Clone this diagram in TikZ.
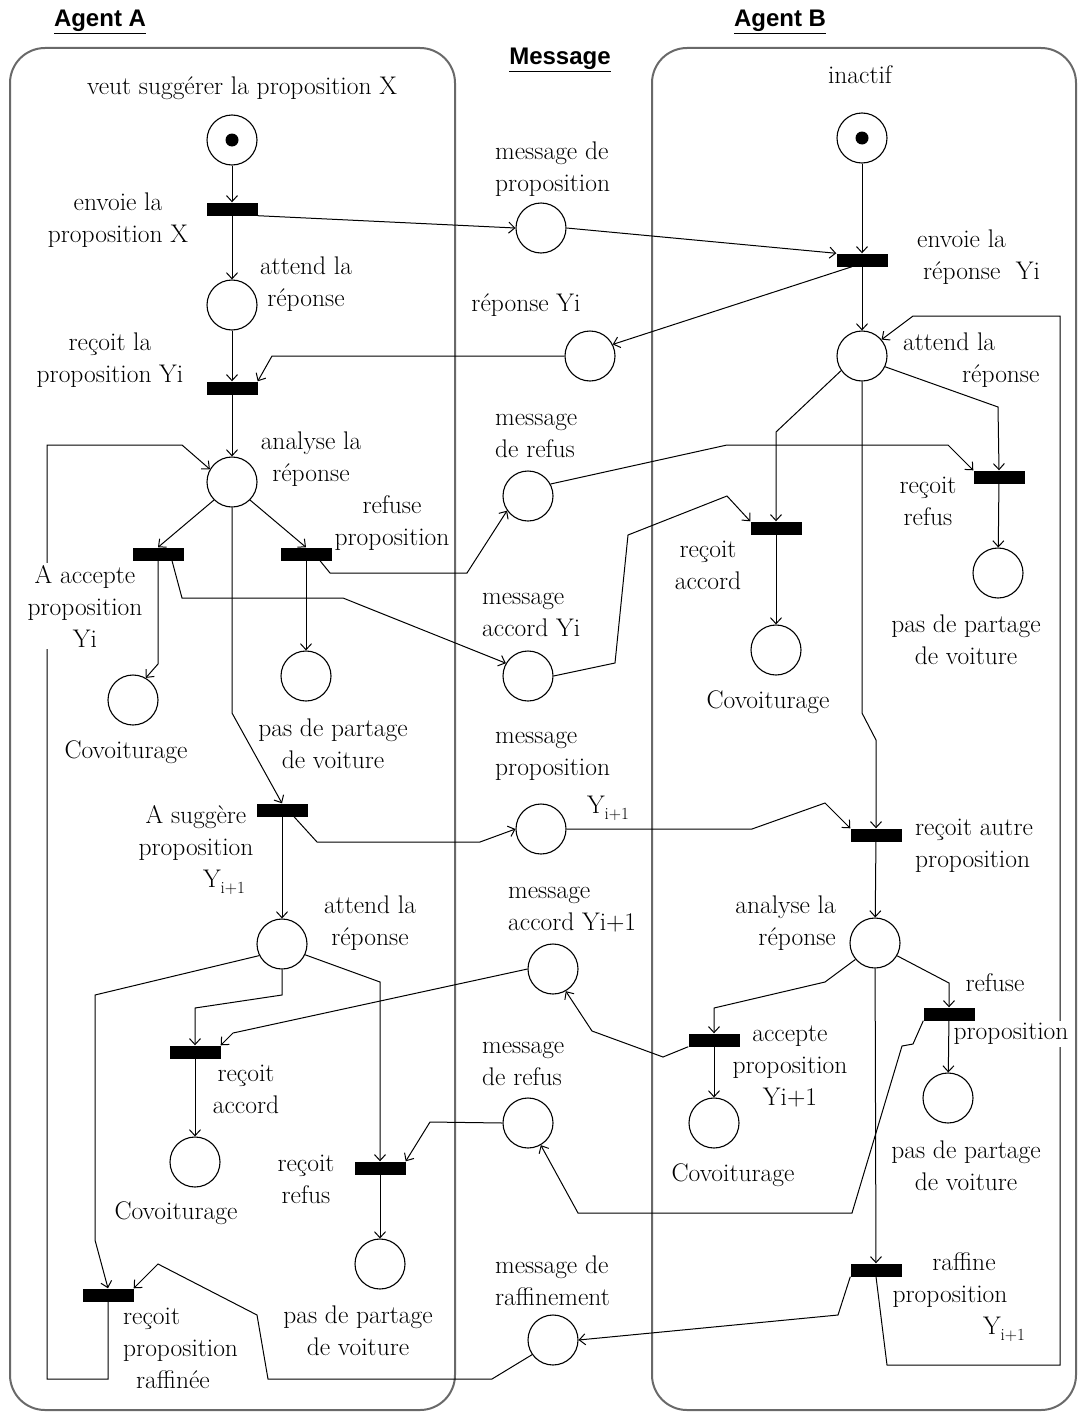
\documentclass[tikz,border=0pt]{standalone}
\usepackage{fontspec}
\newfontfamily\headfont{Liberation Sans}
\usetikzlibrary{arrows.meta}
\definecolor{boxgray}{RGB}{105,105,105}
\newcommand\Yip{Y\raisebox{-6pt}{\fontsize{17}{17}\selectfont i+1}}
\begin{document}
\begin{tikzpicture}[x=1pt,y=-1pt,
  font=\fontsize{25.5}{32}\selectfont,
  >={Straight Barb[length=6pt,width=11pt]},
  place/.style={circle,draw,line width=1.1pt,minimum size=50pt,inner sep=0pt},
  trans/.style={rectangle,fill=black,minimum width=51pt,minimum height=13pt,inner sep=0pt},
  arc/.style={->,line width=1pt},
  lbl/.style={align=center,inner sep=0pt},
  lbll/.style={align=left,inner sep=0pt,anchor=west},
  head/.style={font=\headfont\bfseries\fontsize{24}{28}\selectfont},
  agent/.style={draw=boxgray,line width=2pt,rounded corners=35pt},
  token/.style={circle,fill=black,minimum size=13pt,inner sep=0pt}
]
\useasboundingbox (0,0) rectangle (1077,1413);
\draw[agent] (10,48) rectangle (455,1410);
\draw[agent] (652,48) rectangle (1076,1410);

% headings
\node[head] (hA) at (100,22) {\underline{Agent A}};
\node[head] (hM) at (560,60) {\underline{Message}};
\node[head] (hB) at (780,22) {\underline{Agent B}};

% Agent A places / transitions
\node[place] (pA0) at (232,140) {};
\node[token] (kA0) at (pA0) {};
\node[trans] (tA1) at (232,209) {};
\node[place] (pA1) at (232,305) {};
\node[trans] (tA2) at (232,388) {};
\node[place] (pA2) at (232,482) {};
\node[trans] (tA3) at (158,554) {};
\node[trans] (tA4) at (306,554) {};
\node[place] (pA3) at (133,700) {};
\node[place] (pA4) at (306,676) {};
\node[trans] (tA5) at (282,810) {};
\node[place] (pA5) at (282,944) {};
\node[trans] (tA6) at (195,1052) {};
\node[place] (pA6) at (195,1162) {};
\node[trans] (tA7) at (380,1168) {};
\node[place] (pA7) at (380,1264) {};
\node[trans] (tA8) at (108,1295) {};

% Messages
\node[place] (mM1) at (541,228) {};
\node[place] (mM2) at (590,356) {};
\node[place] (mM3) at (528,496) {};
\node[place] (mM4) at (528,676) {};
\node[place] (mM5) at (541,829) {};
\node[place] (mM6) at (553,969) {};
\node[place] (mM7) at (528,1123) {};
\node[place] (mM8) at (553,1340) {};

% Agent B
\node[place] (pB0) at (862,138) {};
\node[token] (kB0) at (pB0) {};
\node[trans] (tB1) at (862,260) {};
\node[place] (pB1) at (862,356) {};
\node[trans] (tB2) at (776,528) {};
\node[trans] (tB3) at (999,477) {};
\node[place] (pB2) at (776,650) {};
\node[place] (pB3) at (998,573) {};
\node[trans] (tB4) at (876,835) {};
\node[place] (pB4) at (875,943) {};
\node[trans] (tB5) at (714,1040) {};
\node[trans] (tB6) at (949,1014) {};
\node[place] (pB5) at (714,1123) {};
\node[place] (pB6) at (948,1098) {};
\node[trans] (tB7) at (876,1270) {};

% connectors
\draw[arc] (pA0) -- (tA1);
\draw[arc] (tA1) -- (pA1);
\draw[arc] (tA1.south east) -- (mM1.west);
\draw[arc] (mM1.east) -- (tB1.north west);
\draw[arc] (pB0) -- (tB1);
\draw[arc] (tB1) -- (pB1);
\draw[arc] ([xshift=-10pt]tB1.south) -- (mM2.27);
\draw[arc] (mM2.west) -- (272,356) -- (tA2.north east);
\draw[arc] (pA1) -- (tA2);
\draw[arc] (tA2) -- (pA2);
\draw[arc] (pA2.225) -- (tA3.north);
\draw[arc] (pA2.-45) -- (tA4.north);
\draw[arc] (tA3.south) -- (158,664) -- (pA3.60);
\draw[arc] (tA4) -- (pA4);
\draw[arc] ([xshift=14pt]tA3.south) -- (182,598) -- (343,598) -- (mM4.150);
\draw[arc] ([xshift=14pt]tA4.south) -- (330,573) -- (467,573) -- (mM3.215);
\draw[arc] (mM3.28) -- (727,445) -- (948,445) -- (tB3.north west);
\draw[arc] (pB1.-25) -- (998,407) -- (tB3.north);
\draw[arc] (pB1.215) -- (776,432) -- (tB2.north);
\draw[arc] (mM4.east) -- (615,663) -- (628,535) -- (727,496) -- (tB2.north west);
\draw[arc] (tB2) -- (pB2);
\draw[arc] (tB3) -- (pB3);
\draw[arc] (pB1.south) -- (862,713) -- (876,740) -- (tB4.north);
\draw[arc] (mM5.east) -- (752,829) -- (825,803) -- (tB4.north west);
\draw[arc] ([xshift=12pt]tA5.south) -- (317,842) -- (480,842) -- (mM5.west);
\draw[arc] (pA2.south) -- (232,713) -- (tA5.north);
\draw[arc] (tA5) -- (pA5);
\draw[arc] (pA5.207) -- (95,995) -- (95,1240) -- (tA8.north);
\draw[arc] (pA5.south) -- (282,995) -- (195,1008) -- (tA6.north);
\draw[arc] (mM6.west) -- (233,1033) -- (tA6.north east);
\draw[arc] (pA5.-25) -- (380,982) -- (tA7.north);
\draw[arc] (tA6) -- (pA6);
\draw[arc] (mM7.west) -- (430,1122) -- (tA7.north east);
\draw[arc] (tA7) -- (pA7);
\draw[arc] (mM8.215) -- (492,1379) -- (268,1379) -- (257,1315) -- (158,1264) -- (tA8.north east);
\draw[arc] (tA8.south) -- (108,1379) -- (47,1379) -- (47,445) -- (182,445) -- (pA2.150);
\draw[arc] (tB4) -- (pB4);
\draw[arc] (pB4.220) -- (825,982) -- (714,1008) -- (tB5.north);
\draw[arc] (pB4.-30) -- (949,983) -- (tB6.north);
\draw[arc] (pB4) -- (tB7);
\draw[arc] (tB5.south west) -- (663,1057) -- (592,1031) -- (mM6.-60);
\draw[arc] (tB5) -- (pB5);
\draw[arc] (tB6) -- (pB6);
\draw[arc] (tB6.south west) -- (913,1044) -- (902,1046) -- (852,1213) -- (578,1213) -- (mM7.-60);
\draw[arc] (tB7.south west) -- (838,1315) -- (mM8.east);
\draw[arc] (tB7.south) -- (887,1365) -- (1060,1365) -- (1060,316) -- (913,316) -- (pB1.40);

% labels Agent A
\node[lbl] (lA0) at (242,88) {veut suggérer la proposition X};
\node[lbl] (lA1) at (118,220) {envoie la\\proposition X};
\node[lbl] (lA2) at (306,284) {attend la\\réponse};
\node[lbl] (lA3) at (110,360) {reçoit la\\proposition Yi};
\node[lbl] (lA4) at (311,459) {analyse la\\réponse};
\node[lbl,fill=white,inner sep=2pt] (lA5) at (85,606) {A accepte\\proposition\\Yi};
\node[lbl] (lA6) at (392,523) {refuse\\proposition};
\node[lbl] (lA7) at (126,752) {Covoiturage};
\node[lbl] (lA8) at (333,744) {pas de partage\\de voiture};
\node[lbl] (lA9) at (196,850) {A suggère\\proposition\\\hspace*{56pt}\Yip};
\node[lbl] (lA10) at (370,923) {attend la\\réponse};
\node[lbl] (lA11) at (246,1089) {reçoit\\accord};
\node[lbl] (lA12) at (176,1213) {Covoiturage};
\node[lbl] (lA13) at (306,1179) {reçoit\\refus};
\node[lbl] (lA14) at (358,1331) {pas de partage\\de voiture};
\node[lbll] (lA15) at (123,1348) {reçoit\\proposition\\\hspace*{13pt}raffinée};

% labels messages
\node[lbll] (lM1) at (495,169) {message de\\proposition};
\node[lbl] (lM2) at (526,305) {réponse Yi};
\node[lbll] (lM3) at (495,436) {message\\de refus};
\node[lbll] (lM4) at (482,615) {message\\accord Yi};
\node[lbll] (lM5) at (495,756) {message\\proposition};
\node[lbl] (lM5b) at (608,808) {\Yip};
\node[lbll] (lM6) at (508,910) {message\\accord Yi+1};
\node[lbll] (lM7) at (482,1064) {message\\de refus};
\node[lbll] (lM8) at (495,1281) {message de\\raffinement};

% labels Agent B
\node[lbl] (lB0) at (860,75) {inactif};
\node[lbll] (lB1) at (917,257) {envoie la\\\hspace*{6pt}réponse~~Yi};
\node[lbll] (lB2) at (903,360) {attend la\\\hspace*{59pt}réponse};
\node[lbl] (lB3) at (708,565) {reçoit\\accord};
\node[lbl] (lB4) at (928,501) {reçoit\\refus};
\node[lbl] (lB5) at (768,702) {Covoiturage};
\node[lbl] (lB6) at (966,640) {pas de partage\\de voiture};
\node[lbll] (lB7) at (915,846) {reçoit autre\\proposition};
\node[lbl,align=right,anchor=east] (lB8) at (836,923) {analyse la\\réponse};
\node[lbl] (lB9) at (790,1066) {accepte\\proposition\\Yi+1};
\node[lbl] (lB10) at (995,983) {refuse};
\node[lbl,fill=white,inner sep=2pt] (lB11) at (1011,1034) {proposition};
\node[lbl] (lB12) at (733,1175) {Covoiturage};
\node[lbl] (lB13) at (966,1166) {pas de partage\\de voiture};
\node[lbl] (lB14) at (950,1297) {\hspace*{28pt}raffine\\proposition\\\hspace*{108pt}\Yip};
\end{tikzpicture}
\end{document}
